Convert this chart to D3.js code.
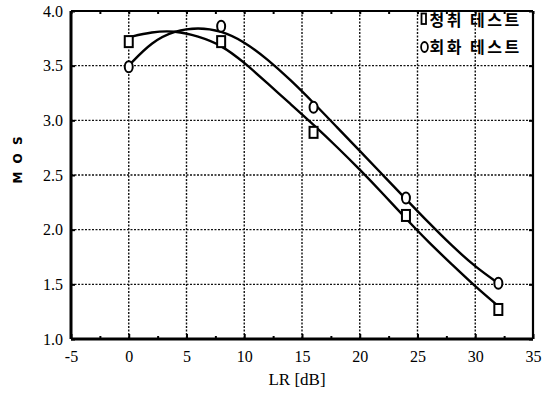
<!DOCTYPE html>
<html>
<head>
<meta charset="utf-8">
<script src="https://cdn.jsdelivr.net/npm/d3@7/dist/d3.min.js"></script>
<style>
  html, body { margin: 0; padding: 0; background: #fff; }
  svg { display: block; }
</style>
</head>
<body>
<div id="chart"></div>
<script>
// measured points (MOS per LR)
const lrPoints = [0, 8, 16, 24, 32];
const listenMos = [3.72, 3.72, 2.89, 2.13, 1.27];   // 청취 테스트 (square)
const talkMos = [3.49, 3.86, 3.12, 2.29, 1.51];     // 회화 테스트 (circle)

// fitted curves
const fitLr = [0, 2, 4, 6, 8, 10, 12, 14, 16, 18, 20, 22, 24, 26, 28, 30, 32];
const listenFit = [3.76, 3.81, 3.82, 3.77, 3.69, 3.53, 3.34, 3.15, 2.96, 2.76, 2.55, 2.33, 2.10, 1.88, 1.68, 1.48, 1.30];
const talkFit = [3.50, 3.72, 3.82, 3.85, 3.82, 3.72, 3.56, 3.37, 3.16, 2.94, 2.72, 2.50, 2.28, 2.06, 1.85, 1.66, 1.51];

const xTicks = [-5, 0, 5, 10, 15, 20, 25, 30, 35];
const yTicks = [1.0, 1.5, 2.0, 2.5, 3.0, 3.5, 4.0];
const legendLabels = ["청취 테스트", "회화 테스트"];

const width = 551, height = 395;
const margin = { top: 11, right: 18, bottom: 56, left: 71 };
const innerW = width - margin.left - margin.right;
const innerH = height - margin.top - margin.bottom;

const svg = d3.select("#chart").append("svg")
  .attr("width", width)
  .attr("height", height);

const g = svg.append("g")
  .attr("transform", `translate(${margin.left},${margin.top})`);

const x = d3.scaleLinear().domain([-5, 35]).range([0, innerW]);
const y = d3.scaleLinear().domain([1, 4]).range([innerH, 0]);

// dotted grid
g.append("g").selectAll("line").data(xTicks.slice(1, -1)).join("line")
  .attr("x1", d => x(d)).attr("x2", d => x(d))
  .attr("y1", 0).attr("y2", innerH)
  .attr("stroke", "#111").attr("stroke-width", 1.4)
  .attr("stroke-dasharray", "2,1.5");
g.append("g").selectAll("line").data(yTicks.slice(1, -1)).join("line")
  .attr("y1", d => y(d)).attr("y2", d => y(d))
  .attr("x1", 0).attr("x2", innerW)
  .attr("stroke", "#111").attr("stroke-width", 1.4)
  .attr("stroke-dasharray", "2,1.5");

// axes with inward ticks
const xMinor = d3.range(-2.5, 35, 5);
const xAxis = d3.axisBottom(x).tickValues(xTicks).tickSize(-5).tickPadding(12)
  .tickFormat(d => String(d));
const gx = g.append("g").attr("transform", `translate(0,${innerH})`).call(xAxis);
gx.select(".domain").remove();
gx.selectAll("text").attr("font-family", "Liberation Serif").attr("font-size", 16).attr("fill", "#000");
gx.selectAll(".tick line").attr("stroke-width", 2);
g.append("g").attr("transform", `translate(0,${innerH})`)
  .call(d3.axisBottom(x).tickValues(xMinor).tickSize(-3).tickFormat(""))
  .call(s => s.select(".domain").remove())
  .selectAll("line").attr("stroke-width", 2);
// top minor/major ticks
g.append("g").call(d3.axisTop(x).tickValues(xTicks.concat(xMinor)).tickSize(-3).tickFormat(""))
  .call(s => s.select(".domain").remove())
  .selectAll("line").attr("stroke-width", 2);

const yAxis = d3.axisLeft(y).tickValues(yTicks).tickSize(-4).tickPadding(8).tickFormat(d3.format(".1f"));
const gy = g.append("g").call(yAxis);
gy.select(".domain").remove();
gy.selectAll("text").attr("font-family", "Liberation Serif").attr("font-size", 16).attr("fill", "#000");
gy.selectAll(".tick line").attr("stroke-width", 2);
g.append("g").attr("transform", `translate(${innerW},0)`)
  .call(d3.axisRight(y).tickValues(yTicks).tickSize(-4).tickFormat(""))
  .call(s => s.select(".domain").remove())
  .selectAll("line").attr("stroke-width", 2);

// frame
g.append("line").attr("x1", 0).attr("x2", innerW).attr("y1", innerH).attr("y2", innerH)
  .attr("stroke", "#000").attr("stroke-width", 3);
g.append("line").attr("x1", 0).attr("x2", 0).attr("y1", 0).attr("y2", innerH)
  .attr("stroke", "#000").attr("stroke-width", 3);
g.append("line").attr("x1", 0).attr("x2", innerW).attr("y1", 0).attr("y2", 0)
  .attr("stroke", "#000").attr("stroke-width", 2.2);
g.append("line").attr("x1", innerW).attr("x2", innerW).attr("y1", 0).attr("y2", innerH)
  .attr("stroke", "#000").attr("stroke-width", 2.2);

// fitted curves
const line = d3.line()
  .x(d => x(d[0]))
  .y(d => y(d[1]))
  .curve(d3.curveBasis);

g.append("path").datum(fitLr.map((v, i) => [v, listenFit[i]]))
  .attr("d", line).attr("fill", "none").attr("stroke", "#000").attr("stroke-width", 2.4);
g.append("path").datum(fitLr.map((v, i) => [v, talkFit[i]]))
  .attr("d", line).attr("fill", "none").attr("stroke", "#000").attr("stroke-width", 2.4);

// markers
g.append("g").selectAll("rect").data(lrPoints.map((v, i) => [v, listenMos[i]])).join("rect")
  .attr("x", d => x(d[0]) - 4).attr("y", d => y(d[1]) - 5.5)
  .attr("width", 8).attr("height", 11)
  .attr("fill", "#fff").attr("stroke", "#000").attr("stroke-width", 2);
g.append("g").selectAll("ellipse").data(lrPoints.map((v, i) => [v, talkMos[i]])).join("ellipse")
  .attr("cx", d => x(d[0])).attr("cy", d => y(d[1]))
  .attr("rx", 4).attr("ry", 5.5)
  .attr("fill", "#fff").attr("stroke", "#000").attr("stroke-width", 2);

// legend, sits on the grid in the top-right cell pair
const leg = g.append("g").attr("transform", `translate(${x(25) + 1},0)`);
leg.append("rect").attr("x", 3).attr("y", 2.5).attr("width", 4.5).attr("height", 10.5)
  .attr("fill", "#fff").attr("stroke", "#000").attr("stroke-width", 1.8);
leg.append("ellipse").attr("cx", 6).attr("cy", 36).attr("rx", 3.4).attr("ry", 5)
  .attr("fill", "#fff").attr("stroke", "#000").attr("stroke-width", 1.8);
leg.selectAll("text").data(legendLabels).join("text")
  .attr("x", d => 11)
  .attr("y", (d, i) => 15 + i * 27)
  .attr("font-family", "Noto Sans CJK KR")
  .attr("font-size", 16)
  .attr("font-weight", 700)
  .attr("letter-spacing", 2.5)
  .attr("fill", "#000")
  .text(d => d);

// axis titles
svg.append("text")
  .attr("x", 297).attr("y", 385)
  .attr("text-anchor", "middle")
  .attr("font-family", "Liberation Serif").attr("font-size", 17)
  .text("LR [dB]");
svg.append("text")
  .attr("transform", "translate(22,159) rotate(-90)")
  .attr("text-anchor", "middle")
  .attr("font-family", "DejaVu Sans").attr("font-size", 12)
  .attr("font-weight", 700)
  .attr("letter-spacing", 2)
  .text("M O S");
</script>
</body>
</html>
